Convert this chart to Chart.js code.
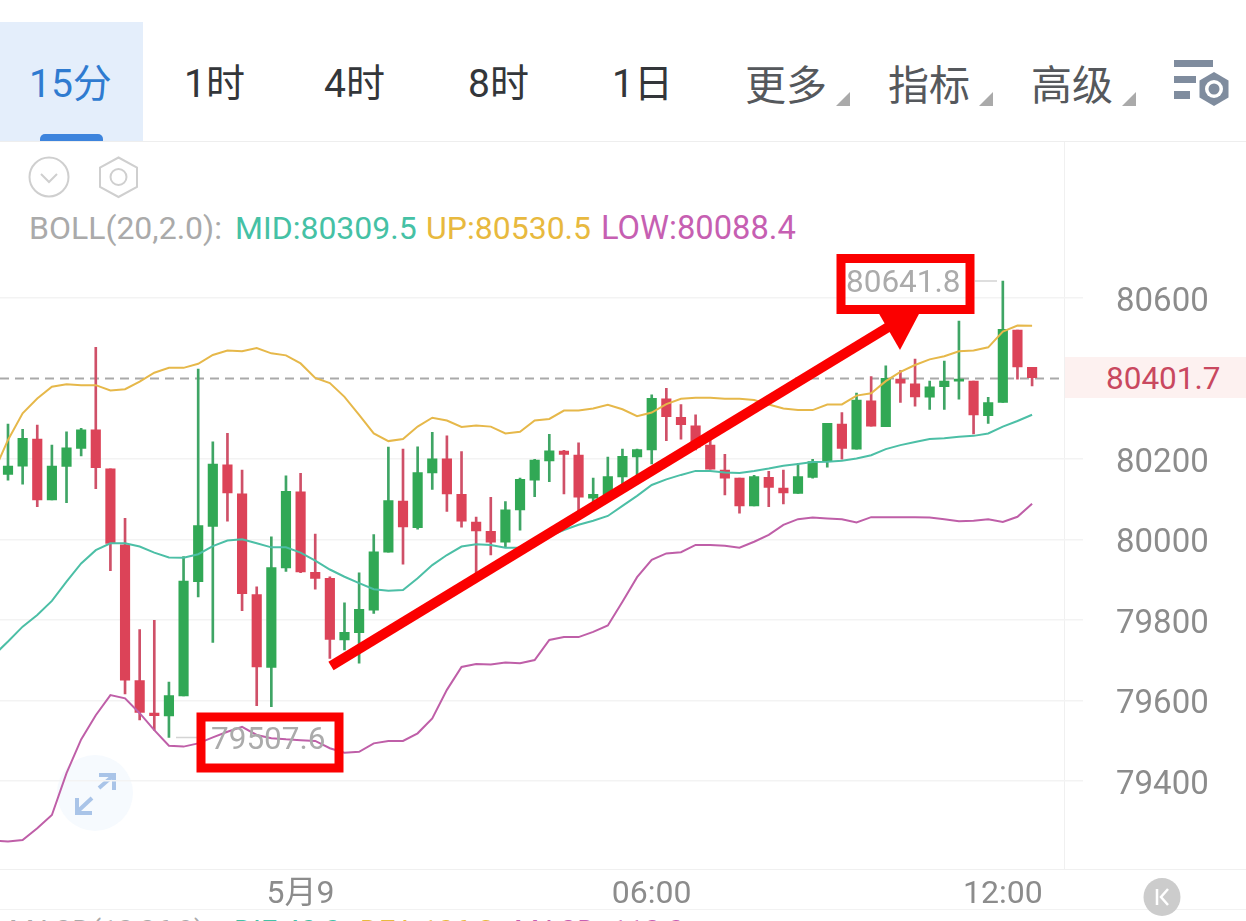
<!DOCTYPE html>
<html lang="zh">
<head>
<meta charset="utf-8">
<script src="https://cdn.jsdelivr.net/npm/chart.js@4"></script>
<style>
html,body{margin:0;padding:0;background:#fff;width:1246px;height:921px;overflow:hidden;font-family:Roboto,"Noto Sans CJK SC",sans-serif}
.a{position:absolute;white-space:nowrap;line-height:1}
.tab{font-family:Roboto,"Noto Sans CJK SC",sans-serif;font-size:39px;color:#33363a}
.more{font-family:"Noto Sans CJK SC",sans-serif;font-size:41px;color:#55585c}
.tri{position:absolute;width:0;height:0;border-left:14px solid transparent;border-bottom:14px solid #aaa}
.b{font-size:32px}
canvas{position:absolute;left:0;top:0}
</style>
</head>
<body>
<div class="a" style="left:0;top:22px;width:143px;height:119px;background:#e4eefb"></div>
<div class="a" style="left:40px;top:134px;width:63px;height:7px;background:#3d84dd;border-radius:5px 5px 0 0"></div>
<div class="a" style="left:0;top:141px;width:1246px;height:1px;background:#eeeeee"></div>
<div class="a tab" style="left:29px;top:65px;color:#2f7bd0">15分</div>
<div class="a tab" style="left:184px;top:65px">1时</div>
<div class="a tab" style="left:324px;top:65px">4时</div>
<div class="a tab" style="left:468px;top:65px">8时</div>
<div class="a tab" style="left:612px;top:65px">1日</div>
<div class="a more" style="left:745px;top:62px">更多</div>
<div class="a more" style="left:888px;top:62px">指标</div>
<div class="a more" style="left:1031px;top:62px">高级</div>
<div class="tri" style="left:836px;top:92px"></div>
<div class="tri" style="left:979px;top:92px"></div>
<div class="tri" style="left:1122px;top:92px"></div>

<svg class="a" width="1246" height="921" style="left:0;top:0">
  <g fill="#7f8c9e">
    <rect x="1174" y="60" width="39" height="7"/><rect x="1174" y="76" width="22" height="7"/><rect x="1174" y="91" width="16" height="8"/>
    <path d="M1214 72l14.500 8.500v17l-14.500 8.500l-14.500-8.500v-17z" fill="#7f8c9e"/>
    <circle cx="1214" cy="89" r="9" fill="#fff"/><circle cx="1214" cy="89" r="5.500"/>
  </g>
  <circle cx="49" cy="177" r="19.500" fill="none" stroke="#cfcfcf" stroke-width="2"/>
  <path d="M41 174l8 8l8-8" fill="none" stroke="#cfcfcf" stroke-width="2"/>
  <path d="M118.500 157.500l18.500 10v19.500l-18.500 10l-18.500-10v-19.500z" fill="none" stroke="#cfcfcf" stroke-width="2"/>
  <circle cx="118.500" cy="177" r="8" fill="none" stroke="#cfcfcf" stroke-width="2"/>
  <circle cx="95" cy="793" r="38" fill="#f6fafe"/>
  <g fill="none" stroke="#a9c4e8" stroke-width="4">
    <path d="M99 788l15-13M99 775h15v15"/>
    <path d="M92 798l-15 14M77 798v15h15"/>
  </g>
  <rect x="1065" y="357" width="181" height="41" fill="#fdf1f0"/>
  <rect x="1064" y="142" width="1" height="728" fill="#f0f0f0"/>
  <rect x="0" y="869" width="1246" height="1" fill="#f0f0f0"/>
  <rect x="0" y="909" width="1246" height="1" fill="#f2f2f2"/>
  <ellipse cx="1162" cy="897" rx="18.500" ry="19" fill="#cccccc"/>
  <path d="M1157 889v16M1168 889l-7 8l7 8" fill="none" stroke="#fff" stroke-width="2.500"/>
</svg>

<div class="a b" style="left:29px;top:212px;color:#aaaaaa">BOLL(20,2.0):</div>
<div class="a b" style="left:235px;top:212px;color:#45c1a5">MID:80309.5</div>
<div class="a b" style="left:426px;top:212px;color:#e8b93e">UP:80530.5</div>
<div class="a b" style="left:601px;top:212px;font-size:32.700px;color:#c65fb2">LOW:80088.4</div>
<div class="a" style="left:1106px;top:363px;font-size:31.500px;color:#c9485f">80401.7</div>
<div class="a" style="left:9px;top:917px;font-size:29px;color:#aaaaaa">MACD(12,26,9):</div>
<div class="a" style="left:234px;top:917px;font-size:29px;color:#45c1a5">DIF:40.0</div>
<div class="a" style="left:360px;top:917px;font-size:29px;color:#e8b93e">DEA:106.3</div>
<div class="a" style="left:514px;top:917px;font-size:29px;color:#c65fb2">MACD:-110.0</div>

<canvas id="c" width="1246" height="921"></canvas>

<script>
const categories = ['18:45','19:00','19:15','19:30','19:45','20:00','20:15','20:30','20:45','21:00','21:15','21:30','21:45','22:00','22:15','22:30','22:45','23:00','23:15','23:30','23:45','5月9','00:15','00:30','00:45','01:00','01:15','01:30','01:45','02:00','02:15','02:30','02:45','03:00','03:15','03:30','03:45','04:00','04:15','04:30','04:45','05:00','05:15','05:30','05:45','06:00','06:15','06:30','06:45','07:00','07:15','07:30','07:45','08:00','08:15','08:30','08:45','09:00','09:15','09:30','09:45','10:00','10:15','10:30','10:45','11:00','11:15','11:30','11:45','12:00','12:15','12:30','12:45','13:00','13:15'];
const xTickLabels = ['5月9','06:00','12:00'];
const yTicks = [79400,79600,79800,80000,80200,80600];
const opens = [80150,80161,80182,80249,80098,80181,80226,80272,80175,79986,79649,79568,79561,79611,79895,80032,80185,80113,79863,79682,79929,80118,79918,79903,79750,79768,79824,79968,80095,80029,80165,80200,80112,80043,80020,79993,80073,80147,80195,80219,80209,80102,80110,80155,80205,80222,80349,80303,80282,80234,80172,80152,80083,80154,80127,80114,80154,80193,80286,80224,80344,80280,80398,80386,80353,80379,80393,80393,80307,80340,80520,80427];
const closes = [80161,80182,80251,80098,80182,80227,80272,80178,79990,79650,79570,79562,79612,79896,80034,80187,80115,79865,79683,79930,80119,79919,79903,79751,79769,79826,79969,80096,80031,80166,80200,80113,80045,80021,79993,80073,80149,80197,80220,80211,80105,80112,80156,80206,80223,80350,80305,80285,80229,80174,80152,80083,80156,80129,80115,80156,80193,80288,80226,80346,80281,80400,80388,80354,80379,80393,80395,80309,80340,80522,80428,80401.7];
const highs = [80180,80286,80273,80284,80234,80267,80276,80477,80175,80052,79776,79799,79645,79957,80423,80242,80263,80172,79882,80006,80158,80164,80013,79907,79842,79917,80012,80229,80224,80230,80266,80257,80218,80055,80104,80094,80152,80199,80261,80221,80240,80152,80204,80224,80224,80359,80375,80335,80309,80247,80211,80152,80159,80169,80172,80189,80199,80288,80315,80363,80404,80431,80419,80448,80393,80443,80542,80393,80353,80641.8,80520,80427];
const lows = [80140,80147,80137,80081,80098,80091,80207,80126,79922,79616,79551,79526,79507.6,79611,79857,79744,80045,79823,79587,79584,79920,79917,79876,79704,79725,79692,79816,79968,79938,80025,80124,80069,80030,79911,79961,79982,80023,80106,80143,80113,80065,80090,80098,80135,80155,80187,80245,80249,80222,80174,80110,80065,80083,80081,80088,80114,80152,80179,80199,80224,80281,80280,80340,80331,80323,80323,80348,80262,80288,80340,80398,80381];
const bollUp = [80165,80247,80313,80350,80379,80385,80383,80383,80370,80373,80392,80414,80426,80426,80436,80458,80469,80467,80475,80462,80457,80437,80401,80388,80354,80309,80263,80244,80249,80280,80302,80295,80279,80283,80280,80263,80267,80295,80299,80320,80320,80325,80334,80323,80306,80315,80336,80349,80352,80352,80349,80349,80346,80335,80325,80321,80321,80335,80335,80357,80363,80393,80416,80433,80447,80455,80467,80469,80477,80516,80531,80530.5];
const bollMid = [79711,79746,79783,79812,79847,79895,79940,79973,79990,79990,79982,79967,79955,79954,79963,79983,79997,80000,79990,79980,79980,79967,79947,79925,79907,79891,79876,79872,79874,79903,79936,79961,79982,79988,79986,79979,79979,79993,80008,80023,80036,80046,80058,80083,80108,80135,80149,80160,80170,80170,80166,80165,80170,80176,80183,80187,80192,80193,80195,80201,80209,80224,80234,80242,80249,80251,80255,80257,80263,80280,80294,80309.5];
const bollLow = [79252,79249,79253,79282,79315,79419,79503,79563,79613,79605,79568,79526,79487,79485,79493,79508,79522,79534,79514,79506,79503,79501,79499,79481,79470,79472,79493,79499,79499,79518,79555,79626,79683,79690,79689,79694,79692,79700,79750,79757,79757,79770,79786,79845,79906,79949,79965,79968,79986,79986,79984,79979,79994,80011,80036,80050,80054,80052,80050,80042,80055,80055,80055,80055,80054,80050,80045,80046,80050,80043,80056,80088.4];
const lastPrice = 80401.7;
const highLabel = '80641.8';
const lowLabel = '79507.6';

const UP_COL = '#31a855', DOWN_COL = '#dc4358';
const candleColors = opens.map((o, i) => closes[i] >= o ? UP_COL : DOWN_COL);
const wickColors = opens.map((o, i) => closes[i] >= o ? '#3fa565' : '#cf5068');
const xy = a => a.map((v, i) => ({x: i, y: v}));

const overlay = {
  id: 'overlay',
  beforeDatasetsDraw(chart) {
    const {ctx, scales:{y}} = chart;
    const py = Math.round(y.getPixelForValue(lastPrice)) + 0.5;
    ctx.save();
    ctx.strokeStyle = '#a9a9a9'; ctx.lineWidth = 2; ctx.setLineDash([9,6]);
    ctx.beginPath(); ctx.moveTo(0, py); ctx.lineTo(1064, py); ctx.stroke();
    ctx.restore();
  },
  afterDatasetsDraw(chart) {
    const {ctx, scales:{y}} = chart;
    ctx.save();
    const hy = y.getPixelForValue(80641.8), ly = y.getPixelForValue(79507.6);
    ctx.strokeStyle = '#d4d4d4'; ctx.lineWidth = 1.5;
    ctx.beginPath(); ctx.moveTo(975, hy); ctx.lineTo(997, hy); ctx.moveTo(176, ly); ctx.lineTo(197, ly); ctx.stroke();
    ctx.fillStyle = '#ababab'; ctx.font = '31.5px Roboto'; ctx.textBaseline = 'middle'; ctx.textAlign = 'left';
    ctx.fillText(highLabel, 846, 284);
    ctx.fillText(lowLabel, 211, 741);
    ctx.strokeStyle = '#fb0000'; ctx.lineWidth = 9; ctx.lineCap = 'butt';
    ctx.strokeRect(841, 258.5, 129, 51);
    ctx.strokeRect(201, 717, 138, 51);
    ctx.lineWidth = 10;
    ctx.beginPath(); ctx.moveTo(331, 666); ctx.lineTo(890, 326); ctx.stroke();
    ctx.fillStyle = '#fb0000';
    ctx.beginPath(); ctx.moveTo(878, 312); ctx.lineTo(920, 312); ctx.lineTo(900, 350); ctx.closePath(); ctx.fill();
    ctx.restore();
  }
};

new Chart(document.getElementById('c'), {
  type: 'bar',
  data: {
    datasets: [
      {type:'line', data:xy(bollUp), borderColor:'#e6b84a', borderWidth:2, pointRadius:0, tension:0, fill:false, order:1},
      {type:'line', data:xy(bollMid), borderColor:'#4cbfa6', borderWidth:2, pointRadius:0, tension:0, fill:false, order:1},
      {type:'line', data:xy(bollLow), borderColor:'#bf5fa8', borderWidth:2, pointRadius:0, tension:0, fill:false, order:1},
      {data:opens.map((o,i)=>({x:i,y:[o,closes[i]]})), backgroundColor:candleColors, barThickness:9.5, minBarLength:2, grouped:false, order:2},
      {data:lows.map((l,i)=>({x:i,y:[l,highs[i]]})), backgroundColor:wickColors, barThickness:2, grouped:false, order:3}
    ]
  },
  options: {
    responsive:false, animation:false, devicePixelRatio:1,
    layout:{padding:{top:142,left:0,right:0,bottom:0}},
    plugins:{legend:{display:false},tooltip:{enabled:false},title:{display:false}},
    scales:{
      x:{
        type:'linear', offset:false, min:0.453, max:74.48,
        grid:{display:false,drawTicks:false,offset:false}, border:{display:false},
        afterBuildTicks(a){a.ticks=xTickLabels.map(l=>({value:categories.indexOf(l)}));},
        afterFit(a){a.height=48;},
        ticks:{autoSkip:false,maxRotation:0,minRotation:0,padding:8,color:'#8c8c8c',font:{family:'Roboto,"Noto Sans CJK SC"',size:32},
          callback(v){return categories[v];}}
      },
      y:{
        position:'right', min:79182.9, max:80987.1,
        grid:{color:'#f3f3f3',lineWidth:1.5,drawTicks:false}, border:{display:false},
        afterBuildTicks(a){a.ticks=yTicks.map(v=>({value:v}));},
        afterFit(a){a.width=163;},
        ticks:{padding:33,crossAlign:'near',labelOffset:4.5,color:'#8c8c8c',font:{family:'Roboto',size:33},callback(v){return String(v);}}
      }
    }
  },
  plugins:[overlay]
});
</script>
</body>
</html>
